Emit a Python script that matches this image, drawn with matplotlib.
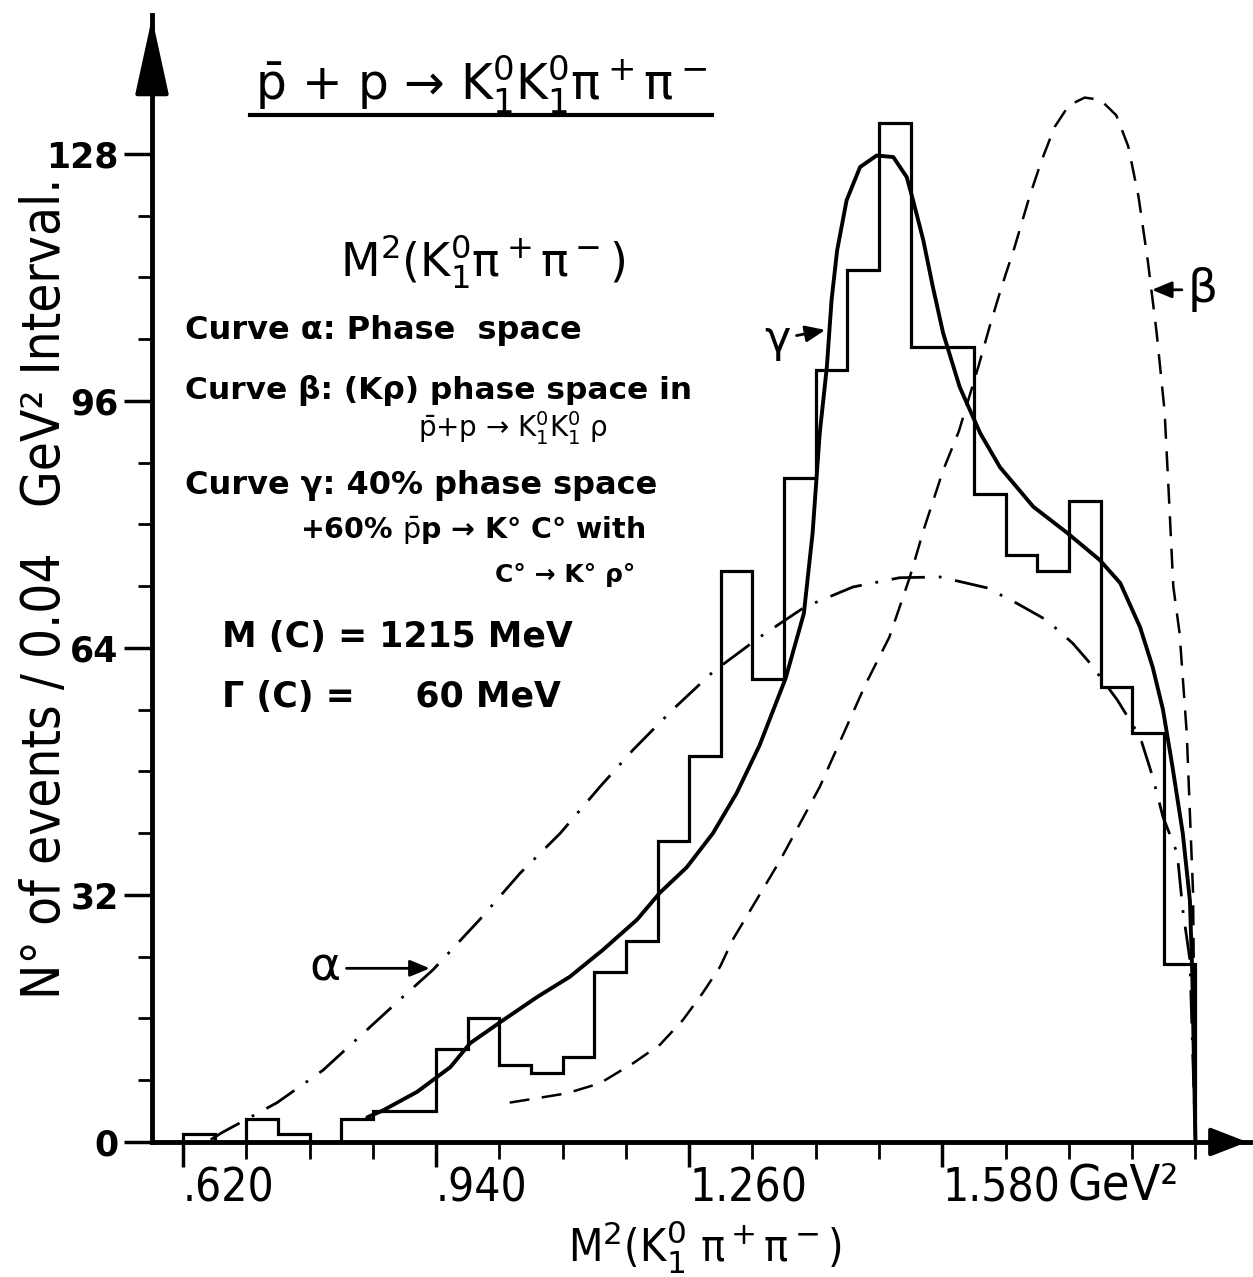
import numpy as np
import matplotlib
matplotlib.use("Agg")
import matplotlib.pyplot as plt
from matplotlib.lines import Line2D

# ────────────────────────────────────────────────
# DATOS
# ────────────────────────────────────────────────
BIN_START = 0.62          # GeV^2
BIN_WIDTH = 0.04          # GeV^2
COUNTS = [1, 0, 3, 1, 0, 3, 4, 4, 12, 16, 10, 9, 11, 22, 26, 39,
          50, 74, 60, 86, 100, 113, 132, 103, 103, 84, 76, 74, 83, 59, 53, 23]

# Curva alfa: espacio de fases
ALPHA_X = [0.655, 0.669, 0.739, 0.797, 0.848, 0.898, 0.936, 0.995, 1.046, 1.097,
           1.147, 1.189, 1.239, 1.290, 1.349, 1.406, 1.467, 1.526, 1.577, 1.636,
           1.674, 1.712, 1.745, 1.767, 1.801, 1.830, 1.846, 1.859, 1.877, 1.884,
           1.893, 1.900]
ALPHA_Y = [0.3, 1.2, 5.1, 9.3, 14.1, 18.8, 22.3, 28.8, 34.8, 40.0,
           46.0, 50.8, 56.0, 60.9, 65.4, 69.3, 71.9, 73.1, 73.2, 71.8,
           69.8, 67.6, 64.6, 62.0, 57.3, 52.5, 47.3, 42.1, 37.4, 30.1,
           23.6, 0.0]

# Curva beta: espacio de fases (K rho)
BETA_X = [1.033, 1.105, 1.147, 1.189, 1.223, 1.252, 1.277, 1.299, 1.315, 1.375,
          1.425, 1.483, 1.513, 1.539, 1.557, 1.581, 1.601, 1.626, 1.640, 1.655,
          1.671, 1.690, 1.705, 1.722, 1.740, 1.760, 1.780, 1.800, 1.815, 1.828,
          1.840, 1.851, 1.861, 1.866, 1.872, 1.880, 1.889, 1.897, 1.900]
BETA_Y = [5.1, 6.3, 7.6, 10.2, 12.6, 15.8, 19.3, 22.7, 26.2, 36.5,
          46.0, 59.3, 65.4, 73.2, 79.5, 87.0, 92.1, 100.6, 105.7, 110.8,
          115.8, 122.4, 127.0, 131.5, 134.3, 135.3, 135.0, 133.0, 129.0, 122.5,
          114.0, 104.8, 94.7, 84.6, 72.0, 65.9, 53.0, 32.3, 0.0]

# Curva gamma: 40% espacio de fases + 60% K C
GAMMA_X = [0.853, 0.873, 0.916, 0.958, 0.983, 1.025, 1.068, 1.109, 1.151, 1.194,
           1.223, 1.257, 1.290, 1.320, 1.349, 1.382, 1.405, 1.416, 1.425, 1.434,
           1.440, 1.447, 1.459, 1.476, 1.497, 1.518, 1.535, 1.543, 1.556, 1.568,
           1.581, 1.602, 1.628, 1.653, 1.695, 1.738, 1.779, 1.805, 1.830, 1.846,
           1.859, 1.871, 1.884, 1.893, 1.896, 1.900]
GAMMA_Y = [3.2, 4.1, 6.5, 9.7, 12.8, 15.8, 18.8, 21.4, 24.9, 28.8,
           32.3, 35.6, 40.0, 45.2, 51.4, 60.1, 68.5, 78.9, 91.8, 100.4,
           109.1, 115.5, 122.0, 126.3, 127.8, 127.6, 125.0, 122.0, 116.8, 110.8,
           104.8, 97.8, 91.8, 87.4, 82.3, 78.9, 75.4, 72.4, 66.7, 61.5,
           56.0, 48.6, 40.0, 31.3, 21.9, 0.0]

X_TICKS = [0.62, 0.94, 1.26, 1.58]
X_TICK_LABELS = ['.620', '.940', '1.260', '1.580']
Y_TICKS = [0, 32, 64, 96, 128]

W, H = 1253, 1277


def px(x, y):
    # pixel de la imagen -> fracción de figura
    return x / W, 1 - y / H


# ────────────────────────────────────────────────
# FIGURA
# ────────────────────────────────────────────────
fig = plt.figure(figsize=(W / 100, H / 100), dpi=100)
fig.patch.set_facecolor('white')
ax = fig.add_axes([152 / W, 1 - 1142 / H, (1250 - 152) / W, (1142 - 15) / H])
ax.set_xlim(0.5808, 1.969)
ax.set_ylim(0, 146)

# histograma
edges = BIN_START + BIN_WIDTH * np.arange(len(COUNTS) + 1)
ax.stairs(COUNTS, edges, color='black', lw=2.3, baseline=0)

# curvas
ax.plot(ALPHA_X, ALPHA_Y, color='black', lw=2.0, linestyle=(0, (12, 5, 1, 5)))
ax.plot(BETA_X, BETA_Y, color='black', lw=1.8, linestyle=(0, (8, 5)))
ax.plot(GAMMA_X, GAMMA_Y, color='black', lw=2.8, solid_capstyle='round')

# ejes
for s in ['top', 'right']:
    ax.spines[s].set_visible(False)
for s in ['left', 'bottom']:
    ax.spines[s].set_linewidth(3.5)
ax.annotate('', xy=(0, 1.0), xytext=(0, 0.95), xycoords='axes fraction',
            arrowprops=dict(arrowstyle='-|>,head_length=1.6,head_width=0.35',
                            color='black', lw=3, mutation_scale=30))
ax.annotate('', xy=(1.0, 0), xytext=(0.97, 0), xycoords='axes fraction',
            arrowprops=dict(arrowstyle='-|>,head_length=0.9,head_width=0.35',
                            color='black', lw=3, mutation_scale=25))

ax.set_yticks(Y_TICKS)
ax.set_yticks(np.arange(0, 129, 8), minor=True)
ax.tick_params(axis='y', which='major', length=20, width=2.5, pad=4)
ax.tick_params(axis='y', which='minor', length=10, width=2.0)
for lab in ax.get_yticklabels():
    lab.set_fontsize(25)
    lab.set_fontweight('bold')

ax.set_xticks(X_TICKS, X_TICK_LABELS)
ax.set_xticks(np.arange(0.62, 1.905, 0.08), minor=True)
ax.tick_params(axis='x', which='major', length=18, width=2.5, pad=0)
ax.tick_params(axis='x', which='minor', length=12, width=2.0)
for lab in ax.get_xticklabels():
    lab.set_fontsize(33)
    lab.set_fontstretch('condensed')
    lab.set_horizontalalignment('left')

# ────────────────────────────────────────────────
# TEXTOS
# ────────────────────────────────────────────────
fig.text(*px(1068, 1186), 'GeV²', fontsize=36, fontstretch='condensed',
         va='center', ha='left')
fig.text(*px(705, 1247), r'M$^2$(K$_1^0$ π$^+$π$^-$)', fontsize=32,
         fontstretch='condensed', va='center', ha='center')
fig.text(*px(45, 588), 'N° of events / 0.04   GeV² Interval.', fontsize=38,
         fontstretch='condensed', rotation=90, va='center', ha='center')

fig.text(*px(255, 85), r'$\bar{\mathrm{p}}$ + p → K$_1^0$K$_1^0$π$^+$π$^-$', fontsize=35,
         va='center', ha='left')
fig.add_artist(Line2D([250 / W, 712 / W], [1 - 115 / H] * 2, color='black', lw=3))

fig.text(*px(340, 262), r'M$^2$(K$_1^0$π$^+$π$^-$)', fontsize=33, va='center', ha='left')
fig.text(*px(185, 330), 'Curve α: Phase  space', fontsize=23, fontweight='bold',
         va='center', ha='left')
fig.text(*px(185, 390), 'Curve β: (Kρ) phase space in', fontsize=22.5, fontweight='bold',
         va='center', ha='left')
fig.text(*px(418, 428), r'$\bar{\mathrm{p}}$+p → K$_1^0$K$_1^0$ ρ', fontsize=20,
         va='center', ha='left')
fig.text(*px(185, 485), 'Curve γ: 40% phase space', fontsize=23, fontweight='bold',
         va='center', ha='left')
fig.text(*px(300, 530), r'+60% $\bar{\mathrm{p}}$p → K° C° with', fontsize=20.5,
         fontweight='bold', va='center', ha='left')
fig.text(*px(495, 575), 'C° → K° ρ°', fontsize=18, fontweight='bold',
         va='center', ha='left')
fig.text(*px(222, 637), 'M (C) = 1215 MeV', fontsize=25, fontweight='bold',
         va='center', ha='left')
fig.text(*px(222, 697), 'Γ (C) =     60 MeV', fontsize=25, fontweight='bold',
         va='center', ha='left')

# etiquetas de las curvas
arrow = dict(arrowstyle='-|>,head_length=0.6,head_width=0.25', color='black', lw=2,
             mutation_scale=20, shrinkA=2, shrinkB=0)
ax.annotate('γ', xy=(1.432, 105.2), xytext=(1.372, 104.0), fontsize=32,
            va='center', ha='center', arrowprops=arrow)
ax.annotate('β', xy=(1.845, 110.4), xytext=(1.909, 110.4), fontsize=34,
            va='center', ha='center', arrowprops=arrow)
ax.annotate('α', xy=(0.932, 22.5), xytext=(0.80, 22.5), fontsize=34,
            va='center', ha='center', arrowprops=arrow)

fig.savefig('out.png', dpi=100, facecolor='white')
